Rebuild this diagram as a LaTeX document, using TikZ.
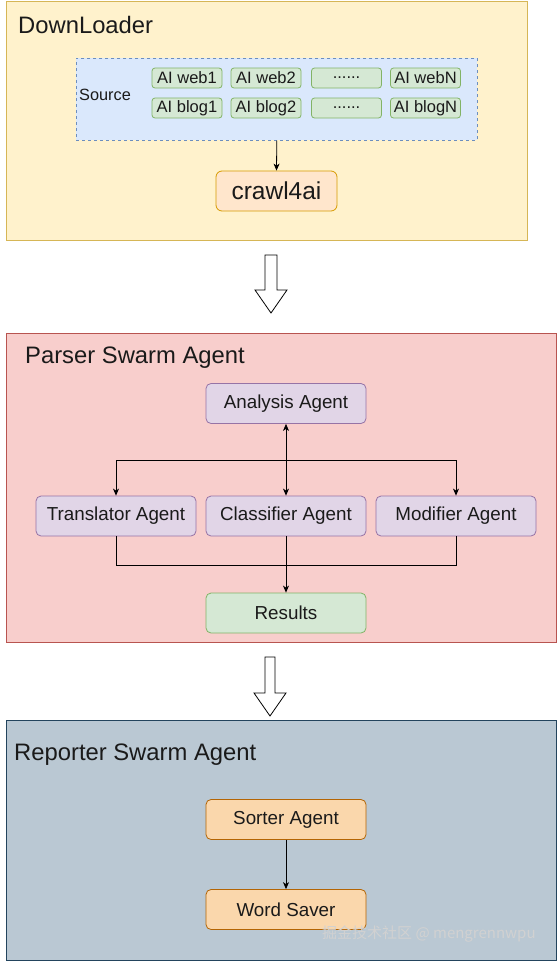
\documentclass[tikz,border=0pt]{standalone}
\usepackage{fontspec}
\setmainfont{Liberation Sans}
\newfontfamily\cjkfont{Noto Sans CJK SC}
\usetikzlibrary{arrows.meta}
\definecolor{dlfill}{HTML}{FFF2CC}\definecolor{dldraw}{HTML}{D6B656}
\definecolor{srcfill}{HTML}{DAE8FC}\definecolor{srcdraw}{HTML}{6C8EBF}
\definecolor{gfill}{HTML}{D5E8D4}\definecolor{gdraw}{HTML}{82B366}
\definecolor{ofill}{HTML}{FFE6CC}\definecolor{odraw}{HTML}{D79B00}
\definecolor{rfill}{HTML}{F8CECC}\definecolor{rdraw}{HTML}{B85450}
\definecolor{pfill}{HTML}{E1D5E7}\definecolor{pdraw}{HTML}{9673A6}
\definecolor{bfill}{HTML}{BAC8D3}\definecolor{bdraw}{HTML}{23445D}
\definecolor{sfill}{HTML}{FAD7AC}\definecolor{sdraw}{HTML}{B46504}
\definecolor{txt}{HTML}{1A1A1A}
\tikzset{
  container/.style={draw, line width=0.8pt, anchor=north west, inner sep=0pt},
  title/.style={anchor=west, inner sep=0pt, text=txt, font=\fontsize{23.8}{28}\selectfont},
  smallbox/.style={draw=gdraw, fill=gfill, line width=0.8pt, rounded corners=3pt,
    minimum width=70pt, minimum height=20pt, inner sep=0pt, text=txt,
    font=\fontsize{16.5}{19}\selectfont},
  agent/.style={draw=pdraw, fill=pfill, line width=0.8pt, rounded corners=5pt,
    minimum width=160pt, minimum height=40pt, inner sep=0pt, text=txt,
    font=\fontsize{18.8}{22}\selectfont},
  conn/.style={line width=0.8pt, draw=black},
  tip/.style={-{Stealth[length=7pt,width=6pt,inset=2pt]}},
  hollow/.style={draw=black, fill=white, line width=0.8pt, line join=miter}
}
\begin{document}
\begin{tikzpicture}[x=1pt,y=-1pt]
\useasboundingbox (0,0) rectangle (557,961);
\fill[white] (0,0) rectangle (557,961);

% ---------- DownLoader ----------
\node[container, draw=dldraw, fill=dlfill, minimum width=521pt, minimum height=239pt] (dl) at (6,1) {};
\node[title] (dlt) at (18,25) {DownLoader};
\node[container, draw=srcdraw, fill=srcfill, dashed, line width=0.6pt, minimum width=401pt, minimum height=82pt] (src) at (76,58) {};
\node[anchor=west, inner sep=0pt, text=txt, font=\fontsize{16.3}{19}\selectfont] (srct) at (79,95) {Source};
\node[smallbox] (w1) at (187,78) {AI web1};
\node[smallbox] (w2) at (266,78) {AI web2};
\node[smallbox] (w3) at (346.5,78) {......};
\node[smallbox] (w4) at (425.5,78) {AI webN};
\node[smallbox] (b1) at (187,108) {AI blog1};
\node[smallbox] (b2) at (266,108) {AI blog2};
\node[smallbox] (b3) at (346.5,108) {......};
\node[smallbox] (b4) at (425.5,108) {AI blogN};
\node[draw=odraw, fill=ofill, line width=0.8pt, rounded corners=6pt, minimum width=121pt,
  minimum height=40pt, inner sep=0pt, text=txt, font=\fontsize{24.5}{28}\selectfont] (crawl) at (276.5,191) {crawl4ai};
\draw[conn, tip] (src.south) -- (crawl.north);

% ---------- hollow arrow 1 ----------
\draw[hollow] (265,255) -- (277,255) -- (277,290) -- (287,290) -- (271,313) -- (255,290) -- (265,290) -- cycle;

% ---------- Parser Swarm Agent ----------
\node[container, draw=rdraw, fill=rfill, minimum width=550pt, minimum height=309pt] (ps) at (6,333) {};
\node[title] (pst) at (25,358) {Parser Swarm Agent};
\node[agent] (ana) at (286,403.5) {Analysis Agent};
\node[agent] (tra) at (116,516) {Translator Agent};
\node[agent] (cls) at (286,516) {Classifier Agent};
\node[agent] (mod) at (456,516) {Modifier Agent};
\node[agent, draw=gdraw, fill=gfill] (res) at (286,613) {Results};
\coordinate (hj) at (286,460);
\coordinate (bj) at (286,565);
\draw[conn, {Stealth[length=7pt,width=6pt,inset=2pt]}-{Stealth[length=7pt,width=6pt,inset=2pt]}] (ana.south) -- (cls.north);
\draw[conn, tip] (hj) -| (tra.north);
\draw[conn, tip] (hj) -| (mod.north);
\draw[conn] (tra.south) |- (bj);
\draw[conn] (mod.south) |- (bj);
\draw[conn, tip] (cls.south) -- (res.north);

% ---------- hollow arrow 2 ----------
\draw[hollow] (265,657) -- (275,657) -- (275,693) -- (286,693) -- (270,716) -- (254,693) -- (265,693) -- cycle;

% ---------- Reporter Swarm Agent ----------
\node[container, draw=bdraw, fill=bfill, minimum width=550pt, minimum height=240pt] (rs) at (6,720) {};
\node[title] (rst) at (14,755) {Reporter Swarm Agent};
\node[agent, draw=sdraw, fill=sfill] (sort) at (286,819.5) {Sorter Agent};
\node[agent, draw=sdraw, fill=sfill] (word) at (286,909.5) {Word Saver};
\draw[conn, tip] (sort.south) -- (word.north);

% ---------- watermark ----------
\node[anchor=west, inner sep=0pt, text=white!82!black, font=\cjkfont\fontsize{15}{18}\selectfont] (wm) at (322,934) {掘金技术社区 @ mengrennwpu};
\end{tikzpicture}
\end{document}
